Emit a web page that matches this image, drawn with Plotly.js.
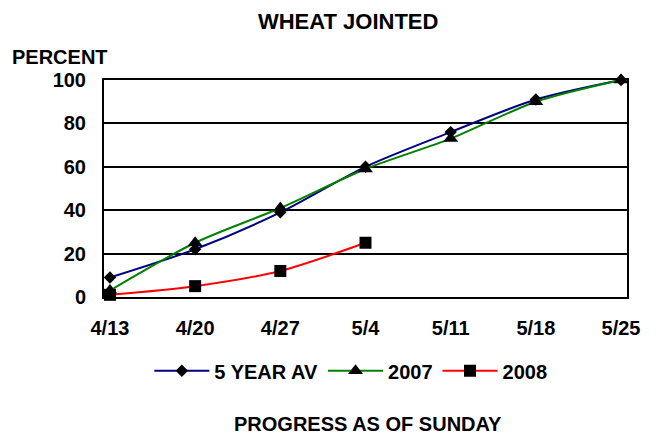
<!DOCTYPE html>
<html>
<head>
<meta charset="utf-8">
<script src="https://cdn.plot.ly/plotly-3.0.1.min.js"></script>
<style>html,body{margin:0;padding:0;background:#fff}#chart{width:657px;height:435px}</style>
</head>
<body>
<div id="chart"></div>
<script>
var weeks = ["4/13", "4/20", "4/27", "5/4", "5/11", "5/18", "5/25"];
var fiveYearAvg = [9, 22, 39, 60, 76, 91, 100];
var y2007 = [3, 25, 41, 59, 73, 90, 100];
var y2008 = [1, 5, 12, 25];
var yTicks = [0, 20, 40, 60, 80, 100];

var FONT = "Arial, 'Liberation Sans', sans-serif";
var FS = 20;

var traces = [
  {x: weeks, y: fiveYearAvg, name: "5 YEAR AV", type: "scatter", mode: "lines+markers",
   line: {color: "#000080", width: 2, shape: "spline", smoothing: 0.8},
   marker: {symbol: "diamond", size: 9.5, color: "#000000"}, cliponaxis: false},
  {x: weeks, y: y2007, name: "2007", type: "scatter", mode: "lines+markers",
   line: {color: "#008000", width: 2, shape: "spline", smoothing: 0.8},
   marker: {symbol: "triangle-up", size: 13, color: "#000000"}, cliponaxis: false},
  {x: weeks.slice(0, y2008.length), y: y2008, name: "2008", type: "scatter", mode: "lines+markers",
   line: {color: "#FF0000", width: 2, shape: "spline", smoothing: 0.8},
   marker: {symbol: "square", size: 12, color: "#000000"}, cliponaxis: false}
];

var layout = {
  width: 657, height: 435,
  margin: {l: 104, r: 30, t: 80, b: 138},
  paper_bgcolor: "#ffffff", plot_bgcolor: "#ffffff",
  font: {family: FONT, color: "#000000", size: FS, weight: "bold"},
  title: {text: "WHEAT JOINTED", x: 0.53, xanchor: "center", y: 0.95, yanchor: "middle",
          font: {family: FONT, size: 22, weight: "bold", color: "#000"}},
  showlegend: true,
  legend: {orientation: "h", x: 0.472, xanchor: "center", y: -0.34, yanchor: "middle",
           font: {family: FONT, size: FS, weight: "bold", color: "#000"}, itemwidth: 55,
           bgcolor: "rgba(0,0,0,0)"},
  xaxis: {type: "category", range: [-0.07, 6.07], showgrid: false, zeroline: false,
          showline: true, linecolor: "#000", linewidth: 2, mirror: true, ticks: "",
          ticklabelstandoff: 12, tickfont: {family: FONT, size: FS, weight: "bold", color: "#000"},
          fixedrange: true},
  yaxis: {range: [0, 100], tickvals: yTicks, ticktext: yTicks.map(String),
          showgrid: true, gridcolor: "#000", gridwidth: 2, zeroline: false,
          showline: true, linecolor: "#000", linewidth: 2, mirror: true, ticks: "",
          ticklabelstandoff: 12, tickfont: {family: FONT, size: FS, weight: "bold", color: "#000"},
          fixedrange: true},
  annotations: [
    {text: "PERCENT", xref: "paper", yref: "paper", x: -0.084, y: 1.105, xanchor: "center", yanchor: "middle",
     showarrow: false, font: {family: FONT, size: FS, weight: "bold", color: "#000"}},
    {text: "PROGRESS AS OF SUNDAY", xref: "paper", yref: "paper", x: 0.504, y: -0.585, xanchor: "center", yanchor: "middle",
     showarrow: false, font: {family: FONT, size: FS, weight: "bold", color: "#000"}}
  ]
};

Plotly.newPlot("chart", traces, layout, {displayModeBar: false, staticPlot: true});
</script>
</body>
</html>
